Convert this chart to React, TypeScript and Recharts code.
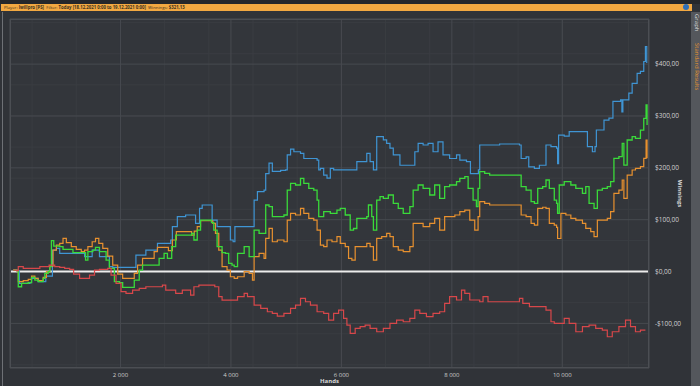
import React from "react";
import { LineChart, Line, XAxis, YAxis, CartesianGrid, ReferenceLine } from "recharts";

// [hands, winnings $]
const blueSeries: [number, number][] = [
  [60, 2.9], [132, 1.6], [168, -22.8], [360, -21.5], [390, -13.2], [480, -13.2], [510, -19.6], [630, -19.6],
  [648, -8.7], [744, -8.7], [768, 41.5], [840, 44.7], [900, 35], [1320, 35], [1350, 28.6], [1440, 28.6],
  [1488, 41.5], [1590, 41.5], [1620, 28.6], [1740, 28.6], [1800, 9.3], [1860, 8], [2250, 8], [2280, 31.8],
  [2400, 31.8], [2460, 41.5], [2640, 41.5], [2670, 54.3], [2880, 54.3], [2910, 60.8], [2940, 86.5], [3000, 86.5],
  [3030, 105.8], [3150, 105.8], [3180, 109], [3330, 109], [3360, 92.9], [3408, 92.9], [3432, 121.8], [3480, 128.3],
  [3630, 128.3], [3660, 99.3], [3720, 99.3], [3750, 86.5], [3960, 86.5], [3990, 60.8], [4040, 57.5], [4072, 86.5],
  [4390, 86.5], [4420, 137.9], [4480, 154], [4600, 157], [4630, 189], [4690, 209], [4750, 193], [4900, 195],
  [4990, 196], [5020, 225], [5080, 236], [5140, 231], [5260, 228], [5320, 218], [5560, 215], [5590, 196],
  [5620, 199], [5680, 186], [5740, 180], [5800, 199], [5860, 196], [6220, 196], [6280, 212], [6400, 212],
  [6460, 228], [6520, 212], [6580, 196], [6640, 260], [6760, 254], [6820, 247], [6880, 238], [6940, 225],
  [7030, 225], [7060, 205], [7270, 205], [7330, 231], [7390, 247], [7480, 244], [7570, 247], [7660, 231],
  [7750, 250], [7840, 225], [7960, 218], [8025, 218], [8085, 225], [8145, 215], [8265, 212], [8313, 212],
  [8337, 189], [8457, 189], [8481, 196], [8505, 244], [8865, 246], [9225, 244], [9255, 218], [9345, 221],
  [9393, 202], [9495, 199], [9585, 205], [9675, 205], [9705, 244], [9795, 241], [9897, 238], [9915, 208],
  [9933, 263], [10035, 261], [10125, 270], [10425, 270], [10455, 241], [10545, 231], [10593, 241], [10617, 273],
  [10665, 273], [10755, 292], [10845, 296], [10917, 328], [11055, 331], [11079, 308], [11097, 331], [11205, 344],
  [11265, 363], [11355, 382], [11415, 386], [11475, 405], [11505, 434], [11529, 402],
];

const greenSeries: [number, number][] = [
  [60, 2.9], [120, 1.6], [150, -29.3], [210, -22.8], [330, -21.5], [390, -11.3], [450, -16.4], [510, -19.6],
  [600, -13.2], [630, -3.5], [690, -0.3], [720, 9.3], [750, 59.5], [792, 49.2], [900, 47.9], [960, 42.8],
  [1080, 42.8], [1140, 36.3], [1320, 36.3], [1368, 22.2], [1410, 38.3], [1500, 41.5], [1548, 46.6], [1620, 38.3],
  [1740, 22.2], [1800, 6.1], [1890, -19.6], [1980, -21.5], [2040, -30.5], [2190, -30.5], [2250, -16.4], [2340, 2.9],
  [2400, 12.5], [2640, 12.5], [2700, 25.4], [2790, 35], [2850, 25.4], [2928, 47.9], [3000, 70.4], [3240, 70.4],
  [3288, 73.6], [3330, 60.8], [3390, 80], [3450, 99.3], [3600, 99.3], [3648, 94.2], [3690, 80], [3750, 47.9],
  [3840, 36.3], [3900, 35], [3960, 15.8], [4020, 12.5], [4060, 9.3], [4120, 35], [4240, 47.9], [4330, 28.6],
  [4390, 28.6], [4420, 80], [4510, 73.6], [4600, 73.6], [4630, 128.3], [4690, 125.1], [4750, 105.8], [4960, 109],
  [5020, 157.2], [5080, 170], [5170, 166.9], [5260, 179.7], [5320, 170], [5410, 160.4], [5500, 157.2], [5560, 137.9],
  [5590, 105.8], [5680, 115.4], [5800, 112.2], [5920, 118.6], [5980, 121.8], [6070, 109], [6160, 80], [6220, 83],
  [6280, 102.6], [6460, 105.8], [6490, 128.3], [6550, 105.8], [6580, 80], [6640, 137.9], [6700, 144.4], [6760, 141.1],
  [6850, 147.6], [6940, 131.5], [7030, 121.8], [7120, 112.2], [7240, 125.1], [7300, 157.2], [7390, 166.9], [7480, 160.4],
  [7600, 147.6], [7690, 166.9], [7780, 141.1], [7870, 163.6], [7960, 166.9], [8085, 173.3], [8145, 179.7], [8235, 182.9],
  [8295, 160.4], [8385, 137.9], [8445, 125.1], [8475, 160.4], [8505, 192.6], [8595, 189.4], [8685, 186.1], [9225, 186.1],
  [9255, 163.6], [9345, 157.2], [9435, 134.7], [9495, 131.5], [9555, 160.4], [9645, 163.6], [9705, 176.5], [9765, 160.4],
  [9855, 137.9], [9897, 131.5], [9915, 112.2], [9945, 166.9], [10035, 173.3], [10155, 166.9], [10245, 160.4], [10365, 150.8],
  [10425, 163.6], [10485, 131.5], [10575, 121.8], [10635, 157.2], [10725, 160.4], [10815, 163.6], [10875, 173.3], [10935, 218.3],
  [11025, 221.5], [11085, 247.3], [11115, 205.4], [11175, 253.7], [11265, 260.1], [11325, 256.9], [11415, 272.9], [11475, 295.5],
  [11517, 321.2], [11535, 282.6],
];

const orangeSeries: [number, number][] = [
  [60, 2.9], [120, 1.6], [150, -19.6], [240, -17.7], [330, -15.1], [390, -8.7], [450, -13.2], [510, -17.7],
  [600, -11.3], [660, -0.3], [720, 10.6], [780, 41.5], [840, 51.1], [900, 54.3], [960, 64], [1020, 55.6],
  [1110, 47.9], [1200, 42.8], [1290, 38.3], [1350, 41.5], [1410, 47.9], [1488, 57.5], [1548, 64], [1608, 54.3],
  [1680, 44.7], [1770, 29.9], [1860, 12.5], [1950, -4.8], [2040, -13.2], [2190, -13.2], [2250, -3.5], [2310, 12.5],
  [2400, 25.4], [2520, 25.4], [2610, 38.3], [2670, 46.6], [2820, 46.6], [2868, 40.2], [2940, 60.8], [3012, 76.8],
  [3240, 76.8], [3288, 70.4], [3336, 78.1], [3390, 86.5], [3450, 98], [3630, 98], [3672, 92.9], [3720, 73.6],
  [3780, 41.5], [3840, 9.3], [3930, 2.9], [3990, -10], [4060, -13], [4120, -10], [4240, -0.3], [4330, -3.5],
  [4390, -16.4], [4420, 28.6], [4510, 35], [4600, 25.4], [4630, 64], [4690, 83.3], [4750, 57.5], [4840, 60.8],
  [4960, 57.5], [5020, 99.3], [5080, 112.2], [5170, 109], [5260, 121.8], [5320, 112.2], [5410, 102.6], [5500, 99.3],
  [5560, 80], [5620, 51.1], [5680, 47.9], [5740, 60.8], [5830, 57.5], [5920, 67.2], [5980, 54.3], [6070, 47.9],
  [6130, 25.4], [6190, 22.2], [6250, 47.9], [6340, 47.9], [6460, 54.3], [6520, 47.9], [6580, 22.2], [6640, 64],
  [6730, 67.2], [6820, 73.6], [6880, 67.2], [6940, 47.9], [7030, 41.5], [7120, 38.3], [7240, 47.9], [7300, 92.9],
  [7390, 92.9], [7480, 86.5], [7600, 92.9], [7690, 102.6], [7780, 80], [7870, 105.8], [7960, 105.8], [8055, 109],
  [8145, 115.4], [8235, 118.6], [8325, 99.3], [8415, 80], [8475, 105.8], [8505, 134.7], [8595, 131.5], [8685, 128.3],
  [9225, 128.3], [9255, 109], [9345, 105.8], [9435, 92.9], [9495, 89.7], [9555, 121.8], [9645, 124], [9705, 121.8],
  [9765, 92.9], [9855, 89.7], [9897, 85], [9915, 63.7], [9975, 112.2], [10065, 109], [10155, 102.6], [10245, 99.3],
  [10365, 92.9], [10425, 83.3], [10515, 76.8], [10575, 67.2], [10635, 99.3], [10725, 99.3], [10815, 102.6], [10875, 115.4],
  [10935, 150.8], [11025, 157.2], [11085, 176.5], [11115, 141.1], [11175, 186.1], [11265, 195.8], [11325, 199], [11415, 202.2],
  [11475, 218.3], [11517, 253.7], [11535, 218.3],
];

const redSeries: [number, number][] = [
  [60, 2.9], [120, 1.6], [150, 9.3], [240, 6.1], [480, 6.1], [540, 9.3], [660, 9.3], [708, 12.5],
  [750, 12.5], [810, 9.3], [900, 8], [990, 6.1], [1080, 4.2], [1152, -4.8], [1260, -13.2], [1332, -13.2],
  [1440, -6.8], [1530, 2.9], [1620, 4.2], [1770, 6.1], [1830, -6.8], [1920, -22.8], [2010, -38.9], [2100, -42.1],
  [2220, -35.7], [2340, -32.5], [2460, -29.3], [2640, -29.3], [2760, -26], [2820, -35.7], [2940, -35.7], [3000, -42.1],
  [3120, -35.7], [3270, -45.3], [3330, -29.3], [3420, -26], [3660, -26], [3708, -29.3], [3780, -48.5], [3840, -55],
  [3960, -55], [4120, -48.5], [4240, -42.1], [4300, -48.5], [4420, -64.6], [4540, -71.1], [4660, -77.5], [4750, -80.7],
  [4840, -85.8], [4960, -80.7], [5080, -71.1], [5170, -64.6], [5260, -51.8], [5350, -58.2], [5440, -64.6], [5560, -77.5],
  [5680, -80.7], [5770, -93.6], [5860, -80.7], [5950, -74.3], [6040, -90.3], [6100, -103.2], [6160, -119.3], [6250, -109.6],
  [6340, -106.4], [6430, -103.2], [6520, -109.6], [6640, -116.1], [6760, -109.6], [6880, -100], [7000, -93.6], [7120, -96.8],
  [7240, -90.3], [7330, -74.3], [7420, -80.7], [7540, -87.1], [7660, -80.7], [7780, -77.5], [7870, -61.4], [7960, -48.5],
  [8085, -54.9], [8175, -35.7], [8235, -42.1], [8325, -54.9], [8415, -54.9], [8505, -58.2], [8565, -48.5], [8655, -58.2],
  [9165, -58.2], [9225, -51.8], [9285, -61.4], [9405, -67.8], [9615, -67.8], [9705, -74.3], [9795, -96.8], [9855, -100],
  [9945, -100], [10035, -90.3], [10125, -100], [10245, -116.1], [10365, -106.4], [10485, -103.2], [10605, -109.6], [10725, -112.8],
  [10815, -125.7], [10905, -116.1], [11025, -106.4], [11145, -93.6], [11235, -106.4], [11325, -116.1], [11415, -112.8], [11505, -112.8],
];

const handTicks = [2000, 4000, 6000, 8000, 10000];
const winningTicks = [-100, 0, 100, 200, 300, 400];

const xDomain: [number, number] = [0, 11570];
const yDomain: [number, number] = [-186, 487];

const range = (from: number, to: number, step: number) => {
  const out: number[] = [];
  for (let v = from; v <= to; v += step) out.push(v);
  return out;
};
const minorHandTicks = range(0, 11200, 400);
const minorWinningTicks = range(-180, 480, 20);

const toRows = (s: [number, number][]) => s.map(([hands, value]) => ({ hands, value }));

const fmtHands = (v: number) => String(v).replace(/\B(?=(\d{3})+(?!\d))/g, " ");
const fmtMoney = (v: number) => (v < 0 ? `-$${Math.abs(v)},00` : `$${v},00`);

const FONT = "'Open Sans', 'DejaVu Sans', sans-serif";

export default function App() {
  return (
    <div
      style={{
        position: "absolute",
        left: 0,
        top: 0,
        width: 700,
        height: 386,
        overflow: "hidden",
        background: "#303338",
        fontFamily: FONT,
      }}
    >
      <div style={{ position: "absolute", left: 0, top: 0, width: 700, height: 4, background: "#25272b" }} />
      <div
        style={{
          position: "absolute",
          left: 1,
          top: 4,
          width: 691,
          height: 7,
          background: "#f2a841",
          color: "#3a3020",
          fontSize: 4.3,
          lineHeight: "7px",
          paddingLeft: 3,
          whiteSpace: "nowrap",
          boxSizing: "border-box",
        }}
      >
        <span>Player: </span>
        <b>Iwillpro [PS]</b>
        <span>&nbsp; Filter: </span>
        <b>Today [18.12.2021 0:00 to 19.12.2021 0:00]</b>
        <span>&nbsp; Winnings: </span>
        <b>$321,13</b>
      </div>
      <div
        style={{
          position: "absolute",
          left: 683,
          top: 4,
          width: 6,
          height: 6,
          borderRadius: 3,
          background: "#2f6fb8",
        }}
      />
      <div style={{ position: "absolute", left: 2, top: 12, width: 1, height: 374, background: "#6e7176" }} />
      <div style={{ position: "absolute", left: 691, top: 12, width: 9, height: 374, background: "#54575c" }}>
        <div
          style={{
            position: "absolute",
            left: 2,
            top: 2,
            writingMode: "vertical-rl",
            fontSize: 6,
            color: "#dcdcdc",
            whiteSpace: "nowrap",
          }}
        >
          Graph
        </div>
        <div
          style={{
            position: "absolute",
            left: 2,
            top: 31,
            writingMode: "vertical-rl",
            fontSize: 6,
            color: "#e8962e",
            whiteSpace: "nowrap",
          }}
        >
          Standard Results
        </div>
      </div>
      <div style={{ position: "absolute", left: 0, top: 0 }}>
        <LineChart width={688} height={386} margin={{ top: 19, right: 0, bottom: 0, left: 10 }}>
          <XAxis xAxisId="minor" type="number" dataKey="hands" domain={xDomain} ticks={minorHandTicks} hide allowDataOverflow />
          <YAxis yAxisId="minor" type="number" domain={yDomain} ticks={minorWinningTicks} hide allowDataOverflow />
          <CartesianGrid xAxisId="minor" yAxisId="minor" stroke="#3a3d42" fill="#33363b" />
          <XAxis
            type="number"
            dataKey="hands"
            domain={xDomain}
            ticks={handTicks}
            allowDataOverflow
            height={18}
            axisLine={false}
            tickLine={false}
            tickSize={3}
            tick={{ fill: "#cfcfcf", fontSize: 6, fontFamily: FONT }}
            tickFormatter={fmtHands}
            label={{ value: "Hands", position: "insideBottom", offset: 3, fill: "#d8d8d8", fontSize: 6, fontWeight: 700, fontFamily: FONT }}
          />
          <YAxis
            orientation="right"
            type="number"
            domain={yDomain}
            ticks={winningTicks}
            allowDataOverflow
            width={39}
            axisLine={false}
            tickLine={false}
            tickSize={4}
            tick={{ fill: "#d0d0d0", fontSize: 6.5, fontFamily: FONT }}
            tickFormatter={fmtMoney}
            label={{ value: "Winnings", angle: 90, position: "center", dx: 12, fill: "#d8d8d8", fontSize: 6, fontWeight: 700, fontFamily: FONT }}
          />
          <CartesianGrid stroke="#474a4f" />
          <ReferenceLine y={0} stroke="#ececec" strokeWidth={2} />
          <Line type="stepAfter" data={toRows(blueSeries)} dataKey="value" stroke="#3f95d4" strokeWidth={1.2} dot={false} isAnimationActive={false} />
          <Line type="stepAfter" data={toRows(orangeSeries)} dataKey="value" stroke="#e8912f" strokeWidth={1.2} dot={false} isAnimationActive={false} />
          <Line type="stepAfter" data={toRows(greenSeries)} dataKey="value" stroke="#3ada3a" strokeWidth={1.3} dot={false} isAnimationActive={false} />
          <Line type="stepAfter" data={toRows(redSeries)} dataKey="value" stroke="#d8474a" strokeWidth={1.2} dot={false} isAnimationActive={false} />
        </LineChart>
      </div>
      <div
        style={{
          position: "absolute",
          left: 10,
          top: 19,
          width: 639,
          height: 349,
          border: "1px solid #4b4e53",
          boxSizing: "border-box",
          pointerEvents: "none",
        }}
      />
    </div>
  );
}
